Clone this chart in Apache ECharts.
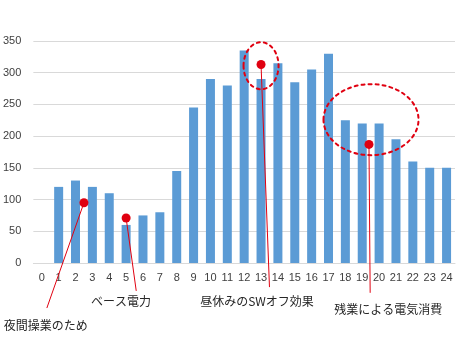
<!DOCTYPE html>
<html><head><meta charset="utf-8">
<script src="https://cdn.jsdelivr.net/npm/echarts@6/dist/echarts.min.js"></script>
<style>html,body{margin:0;padding:0;background:#fff}#c{width:469px;height:350px}</style>
</head><body><div id="c"></div>
<script>
const hours = ['0','1','2','3','4','5','6','7','8','9','10','11','12','13','14','15','16','17','18','19','20','21','22','23','24'];
const usage = [0,120,130,120,110,60,75,80,145,245,290,280,335,290,315,285,305,330,225,220,220,195,160,150,150];
const yTicks = [0,50,100,150,200,250,300,350];

// annotation anchors in data space (x = hour position, y = value)
const noteTexts = ['夜間操業のため','ベース電力','昼休みのSWオフ効果','残業による電気消費'];
const noteDots = [[2.5,95],[5.0,71],[13.0,313],[19.4,187]];
const noteLineEnds = [[0.3,-71],[5.6,-44],[13.5,-38],[19.47,-47]];
const noteLabels = [[0.23,-98],[4.7,-61],[12.76,-60],[20.54,-74]];
const noteRings = [[13.0,311],[19.52,226]];

const chart = echarts.init(document.getElementById('c'), null, {renderer:'canvas'});
const RED = '#E00010';
chart.setOption({
  animation:false,
  grid:{left:33,right:14,top:41,bottom:87,containLabel:false},
  xAxis:[{
    type:'category', data:hours,
    axisLine:{lineStyle:{color:'#D9D9D9'}},
    axisTick:{show:false},
    axisLabel:{color:'#404040',fontSize:11,fontFamily:'Liberation Sans',margin:9,interval:0}
  },{
    type:'value', min:-0.5, max:24.5, show:false
  }],
  yAxis:{
    type:'value', min:yTicks[0], max:yTicks[yTicks.length-1], interval:50,
    axisLine:{show:false}, axisTick:{show:false},
    splitLine:{lineStyle:{color:'#D9D9D9'}},
    axisLabel:{color:'#404040',fontSize:11,fontFamily:'Liberation Sans',margin:12}
  },
  series:[{
    type:'bar', data:usage, barWidth:9, itemStyle:{color:'#5B9BD5'}
  },{
    type:'scatter', xAxisIndex:1, data:noteDots, symbolSize:9,
    itemStyle:{color:RED, opacity:1}, z:10
  }]
});

const px = p => chart.convertToPixel({seriesIndex:1}, p);
const g = [];
noteDots.forEach((d,i)=>{
  const a = px(d), b = px(noteLineEnds[i]);
  g.push({type:'line', shape:{x1:a[0],y1:a[1],x2:b[0],y2:b[1]}, style:{stroke:RED,lineWidth:1}, z:5});
  const t = px(noteLabels[i]);
  g.push({type:'text', x:t[0], y:t[1], style:{text:noteTexts[i], fill:'#262626', font:'12px "Noto Sans CJK JP"', align:'center', verticalAlign:'middle'}, z:5});
});
const ringR = [[17.5,23.5],[47.5,35.5]];
noteRings.forEach((c,i)=>{
  const a = px(c);
  g.push({type:'ellipse', shape:{cx:a[0],cy:a[1],rx:ringR[i][0],ry:ringR[i][1]},
    style:{fill:null, stroke:RED, lineWidth:2, lineDash:[3,4], lineCap:'round'}, z:6});
});
chart.setOption({graphic:g});
</script></body></html>
